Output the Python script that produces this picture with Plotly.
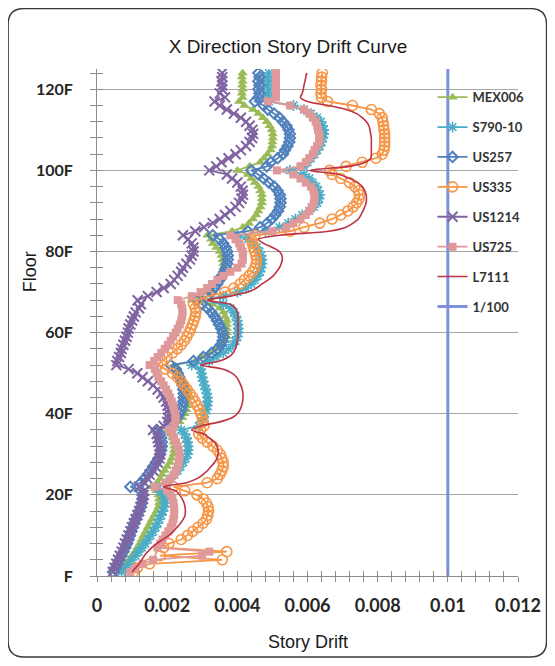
import numpy as np
import plotly.graph_objects as go

# Story drift values per floor (floors 1..124), in units of 1e-4
DRIFT_UNIT = 1e-4
floors = list(range(1, 125))

MEX006 = [6.3, 7.3, 8.3, 9.2, 10, 10.8, 11.5, 12.2, 12.7, 13.3, 13.9, 14.5, 15.1, 15.7, 16.3, 17, 17.5, 17.7, 17.7, 17.5, 17,
          15.5,
          17.3, 18, 18.6, 19.3, 20, 20.8, 21.3, 21.8, 22, 22, 21.8, 21.5, 21,
          20,
          22.5, 23.5, 24.3, 25, 25.5, 25.8, 26, 26, 26, 25.7, 25.3, 24.8, 24, 23.5, 23,
          22,
          28, 30, 32, 34, 35.3, 36.3, 37, 37, 37, 37, 37, 36.5, 36, 35, 33,
          27,
          29.5, 31, 32.3, 33.5, 34.5, 35.3, 35.8, 36, 36, 35.8, 35.5, 35, 34, 33, 32.5,
          31.5,
          38.5, 41.6, 43.3, 44.5, 45.4, 46, 46.6, 47, 47, 47, 46.6, 46, 45, 44, 43,
          40,
          43.5, 46.5, 47.6, 48.6, 49.5, 49.9, 50, 50.1, 50.1, 49.8, 49.2, 48.4, 47.3, 46, 44.5, 42,
          40.5,
          41.5, 41.3, 41.5, 41.4, 41.5, 41.3, 41.5]

S790_10 = [7, 8, 9, 10, 11, 11.9, 12.8, 13.7, 14.5, 15.3, 16, 16.7, 17.3, 17.8, 18.3, 18.8, 19.2, 19.3, 19.2, 18.8, 18,
           16.5,
           20, 21, 22, 23, 23.8, 24.6, 25.3, 25.8, 26, 26, 25.8, 25.5, 25,
           24,
           29, 29.8, 30.3, 30.8, 31.2, 31.4, 31.5, 31.5, 31.3, 31, 30.6, 30.3, 30, 29.8, 29.5,
           27,
           32, 34, 36, 37.5, 38.7, 39.5, 40, 40.2, 40.3, 40.2, 40, 39.5, 39, 38, 36,
           30,
           36, 40, 42.5, 44, 45, 45.8, 46.5, 46.8, 47, 47, 46.8, 46.3, 45.5, 44.5, 43,
           40,
           48, 52, 54.5, 56.5, 58.5, 60.5, 61.8, 62.8, 63.3, 63.5, 63, 62.5, 61.5, 60.5, 59,
           55,
           59, 60, 61, 62, 62.8, 63.5, 64, 64.4, 64.6, 64.6, 64.3, 63.8, 62.7, 61, 59, 56,
           49,
           49, 48.5, 49, 48.5, 49, 48.5, 49]

US257 = [4.6, 5.2, 5.8, 6.4, 7, 7.6, 8.1, 8.6, 9, 9.4, 9.8, 10.2, 10.6, 11.1, 11.6, 12, 12.5, 12.8, 13, 13, 12.5,
         9.5,
         12.5, 13.5, 14.5, 15.3, 16, 16.8, 17.5, 18, 18.3, 18.5, 18.5, 18.3, 18,
         17,
         21, 22, 22.8, 23.5, 24, 24.3, 24.6, 24.7, 24.7, 24.6, 24.4, 24, 23.5, 23, 22.5,
         21,
         27.5, 30.3, 32.7, 34.3, 35.3, 35.8, 36, 35.8, 35.4, 34.8, 34.2, 33.5, 32.6, 31.5, 30,
         28.5,
         31.5, 32.5, 33.5, 34.3, 35, 35.6, 36.3, 36.8, 37.1, 37.3, 37.3, 37.1, 36.7, 36, 35,
         33,
         43, 46.5, 48.5, 49.8, 50.8, 51.6, 52.1, 52.3, 52.3, 52.1, 51.5, 50.5, 49, 47.5, 46,
         44,
         48.4, 49.5, 51.5, 53, 53.6, 54.3, 54.8, 55, 55, 54.6, 54, 53, 52, 50.5, 48.7, 47.5,
         45,
         46, 46.3, 46, 46.3, 46, 46.3, 46]

US335 = [10.5, 11.5, 15, 35.7, 18, 37, 19, 20.5, 24, 25.8, 27.3, 28.8, 30.2, 31.2, 31.6, 31.8, 31.7, 31.2, 30.3, 28.5, 25,
         21.8,
         31.4, 34.3, 35, 35.6, 36, 36, 35.6, 35.1, 34.3, 33, 31.4, 30, 29,
         29.5,
         30.5, 30.3, 30, 29.6, 29.2, 28.6, 28, 27.3, 26.5, 25.7, 24.8, 23.9, 22.9, 21.5, 19.5,
         17.3,
         18.5, 20, 21.5, 22.9, 24, 24.9, 25.6, 26.2, 26.7, 27.2, 27.6, 28, 28.2, 28, 27.5,
         28.5,
         32, 36.5, 39, 40.8, 42, 43.3, 44.3, 45, 45.4, 45.5, 45.3, 45, 44.6, 44.3, 44,
         45,
         55, 59, 63.5, 67, 69.5, 71.5, 73, 74, 74.7, 74.8, 74.5, 73.5, 72, 69.5, 67,
         66.3,
         71, 75.6, 79.5, 81.3, 81.8, 82, 82, 82, 82, 81.8, 81.7, 81.5, 81.3, 80.5, 78.2, 72.8,
         65.7,
         64, 63.8, 64, 63.8, 64, 64, 64.2]

US1214 = [4.5, 5, 5.5, 6, 6.5, 7, 7.5, 8, 8.5, 9, 9.5, 10, 10.5, 11, 11.5, 12, 12.4, 12.7, 13, 13.3, 13.5,
          12,
          13.5, 14.4, 15, 16, 16.7, 17.3, 17.8, 18, 18, 17.8, 17.5, 17.3, 17,
          16,
          19, 20, 20.3, 20.5, 20.4, 20.1, 19.7, 19, 18.3, 17.3, 16, 14.5, 13, 11.5, 9,
          5.5,
          5.8, 6.3, 6.8, 7, 7.5, 8, 8.4, 8.8, 9, 9.5, 10, 10.5, 11, 12, 12.5,
          11.6,
          14.5, 17, 19, 21, 22, 23, 24, 24.5, 25.5, 26.5, 27, 27.5, 27.5, 27, 26,
          24.5,
          28, 30.5, 33, 35, 36.5, 38, 39.5, 40.5, 41.2, 41.6, 41.5, 41, 40, 38.5, 37,
          32,
          34, 35.5, 37.5, 39.5, 41, 42.5, 43.5, 44.2, 44.5, 44.3, 43.5, 42.5, 41, 39, 37, 35,
          33.5,
          36.5, 35, 35.7, 35.7, 35.5, 35.7, 35.7]

US725 = [9.5, 11, 13, 16, 30, 32, 17.2, 18, 18.7, 19.5, 20.3, 21, 21.5, 21.8, 22, 22, 22, 21.8, 21.5, 21, 20,
         16.5,
         19.5, 21, 22, 22.5, 23, 23.3, 23.5, 23.5, 23.3, 23, 22.5, 22, 21.5,
         20.5,
         21.8, 22.3, 22.5, 22.3, 22, 21.7, 21.3, 20.8, 20.3, 19.7, 19, 18.3, 17.5, 17, 16.5,
         15,
         16.3, 17.3, 18.3, 19.3, 20.2, 21, 21.7, 22.4, 23, 23.6, 24, 24.3, 24.4, 24.3, 24,
         23,
         27, 29.5, 31.4, 32.8, 34.3, 36, 38, 40, 41.2, 41.6, 41.6, 41.5, 41, 40.5, 39.5,
         38,
         50, 54, 56, 58, 59.5, 60.5, 61.2, 61.8, 62, 62, 61.7, 61, 59.5, 58, 56,
         51.3,
         58, 59.5, 60.5, 61.5, 62, 62.7, 63.3, 63.5, 63.3, 63, 62.8, 62.3, 61.5, 60.5, 59, 55,
         48.7,
         51, 51, 51, 51, 51, 51, 51]

L7111 = [10, 11, 12, 12.8, 13.5, 14.5, 15.6, 17, 18.8, 20.5, 21.8, 22.8, 23.8, 24.6, 25.1, 25.2, 25.1, 24.8, 24.3, 23.5, 22.5,
         19,
         25.5, 28.5, 30.2, 31.5, 32.5, 33.5, 34.2, 34.5, 34.5, 34.2, 33.5, 32, 30.5,
         27,
         29.5, 35, 38.5, 40, 40.8, 41.2, 41.5, 41.6, 41.6, 41.4, 41, 40.5, 39.8, 38.5, 36,
         29.5,
         35, 37.5, 38.8, 39.4, 39.8, 40, 40.2, 40.2, 40.2, 40.2, 40.2, 40.2, 40, 39.5, 38,
         31.5,
         38, 43, 45.5, 47, 48.8, 50.2, 51.2, 52, 52.5, 52.8, 52.7, 52, 50, 47.5, 46,
         52,
         66, 71, 73, 74.5, 75.2, 75.8, 76.3, 76.7, 76.8, 76.7, 76.3, 75.6, 74.3, 72, 69,
         60.6,
         72, 76.5, 78, 78.2, 78.2, 78.2, 78.2, 78.2, 78, 77.8, 77.5, 76.8, 75.6, 74, 71, 66,
         60,
         58, 58.5, 58.8, 59, 59.3, 59.5, 59.8]

LIMIT_X = [0.01, 0.01]
LIMIT_Y = [0, 125]

x_tickvals = [0, 0.002, 0.004, 0.006, 0.008, 0.01, 0.012]
x_ticktext = ["0", "0.002", "0.004", "0.006", "0.008", "0.01", "0.012"]
y_tickvals = [0, 20, 40, 60, 80, 100, 120]
y_ticktext = ["F", "20F", "40F", "60F", "80F", "100F", "120F"]

series = [
    ("MEX006", MEX006, "#9BBB59", dict(symbol="triangle-up", size=9, color="#9BBB59")),
    ("S790-10", S790_10, "#4BACC6", dict(symbol="asterisk-open", size=9, line=dict(color="#4BACC6", width=1.6))),
    ("US257", US257, "#4F81BD", dict(symbol="diamond-open", size=8, line=dict(color="#4F81BD", width=2))),
    ("US335", US335, "#F79646", dict(symbol="circle-open", size=10, line=dict(color="#F79646", width=1.6))),
    ("US1214", US1214, "#8064A2", dict(symbol="x-thin-open", size=10, line=dict(color="#8064A2", width=2))),
    ("US725", US725, "#E0999A", dict(symbol="square", size=8, color="#E0999A")),
]

FONT = "Lato, 'Open Sans', 'Liberation Sans', sans-serif"
TFONT = "'Liberation Sans', Arial, sans-serif"

fig = go.Figure()
for i, (name, vals, col, mk) in enumerate(series):
    fig.add_trace(go.Scatter(
        x=np.array(vals) * DRIFT_UNIT, y=floors, name=name, mode="lines+markers",
        line=dict(color=col, width=1.8), marker=mk, legendgroup=f"g{i}"))

fig.add_trace(go.Scatter(
    x=np.array(L7111) * DRIFT_UNIT, y=floors, name="L7111", mode="lines",
    line=dict(color="#BE3246", width=1.6, shape="spline", smoothing=0.8), legendgroup="g6"))
fig.add_trace(go.Scatter(
    x=LIMIT_X, y=LIMIT_Y, name="1/100", mode="lines",
    line=dict(color="#8090DA", width=3), legendgroup="g7"))
# overlay axes (for crossing tick marks)
fig.add_trace(go.Scatter(x=[None], y=[None], xaxis="x2", yaxis="y2", showlegend=False, hoverinfo="skip"))

# The page shows the figure offset by the 8px body margin; screen coords below
# are converted into the figure's own frame.
OFF = 8
FIG_W, FIG_H = 547, 650
PL, PR, PT, PB = 97, 518.4, 68.5, 576   # plot area on screen
W, H = PR - PL, PB - PT

def xpaper(X):
    return (X - PL) / W

def ypaper(Y):
    return (PB - Y) / H

axis_col = "#8C8C8C"
fig.update_layout(
    width=FIG_W, height=FIG_H,
    margin=dict(l=PL - OFF, r=FIG_W - (PR - OFF), t=PT - OFF, b=FIG_H - (PB - OFF)),
    paper_bgcolor="white", plot_bgcolor="white",
    showlegend=True,
    legend=dict(x=0.797, y=0.974, xanchor="left", yanchor="top",
                bgcolor="rgba(0,0,0,0)", tracegroupgap=10,
                font=dict(family=FONT, size=13, color="#333333", weight="bold")),
    xaxis=dict(range=[0, 0.012], tickvals=x_tickvals, ticktext=x_ticktext,
               showgrid=False, zeroline=False, showline=True, linecolor=axis_col, linewidth=1,
               ticks="outside", ticklen=5, tickcolor=axis_col,
               minor=dict(dtick=0.0004, ticks="outside", ticklen=5, tickcolor=axis_col, showgrid=False),
               ticklabelstandoff=8,
               tickfont=dict(family=FONT, size=18, color="#262626", weight="bold")),
    yaxis=dict(range=[0, 125], tickvals=y_tickvals, ticktext=y_ticktext,
               showgrid=True, gridcolor="#A6A6A6", gridwidth=1, zeroline=False,
               showline=True, linecolor=axis_col, linewidth=1,
               ticks="outside", ticklen=6, tickcolor=axis_col,
               minor=dict(dtick=4, tick0=0, ticks="outside", ticklen=6, tickcolor=axis_col, showgrid=False),
               ticklabelstandoff=14,
               tickfont=dict(family=FONT, size=16, color="#262626", weight="bold")),
    xaxis2=dict(range=[0, 0.012], overlaying="x", anchor="y", showgrid=False, zeroline=False,
                showline=False, showticklabels=False, tickvals=x_tickvals,
                ticks="inside", ticklen=5, tickcolor=axis_col,
                minor=dict(dtick=0.0004, ticks="inside", ticklen=5, tickcolor=axis_col, showgrid=False)),
    yaxis2=dict(range=[0, 125], overlaying="y", anchor="x", showgrid=False, zeroline=False,
                showline=False, showticklabels=False, tickvals=y_tickvals,
                ticks="inside", ticklen=6, tickcolor=axis_col,
                minor=dict(dtick=4, tick0=0, ticks="inside", ticklen=6, tickcolor=axis_col, showgrid=False)),
    title=dict(text="X Direction Story Drift Curve", xref="container", x=(288 - OFF) / FIG_W,
               xanchor="center", yref="container", y=1 - (46 - OFF) / FIG_H, yanchor="middle",
               font=dict(family=TFONT, size=19, color="#1a1a1a")),
)

# axis titles
fig.add_annotation(text="Story Drift", xref="paper", yref="paper", x=0.5, y=ypaper(642),
                   showarrow=False, xanchor="center", yanchor="middle",
                   font=dict(family=TFONT, size=18, color="#1a1a1a"))
fig.add_annotation(text="Floor", xref="paper", yref="paper", x=xpaper(30), y=ypaper(272),
                   showarrow=False, textangle=-90, xanchor="center", yanchor="middle",
                   font=dict(family=TFONT, size=18, color="#1a1a1a"))

# rounded chart border
x0, x1, y0, y1 = xpaper(8), xpaper(547), ypaper(657), ypaper(8)
r = 16
dx, dy = r / W, r / H
path = (f"M {x0+dx},{y1} L {x1-dx},{y1} Q {x1},{y1} {x1},{y1-dy} "
        f"L {x1},{y0+dy} Q {x1},{y0} {x1-dx},{y0} "
        f"L {x0+dx},{y0} Q {x0},{y0} {x0},{y0+dy} "
        f"L {x0},{y1-dy} Q {x0},{y1} {x0+dx},{y1} Z")
fig.add_shape(type="path", path=path, xref="paper", yref="paper",
              line=dict(color="#3A3A3A", width=1.5), fillcolor="rgba(0,0,0,0)", layer="below")

fig.write_html("out.html")
